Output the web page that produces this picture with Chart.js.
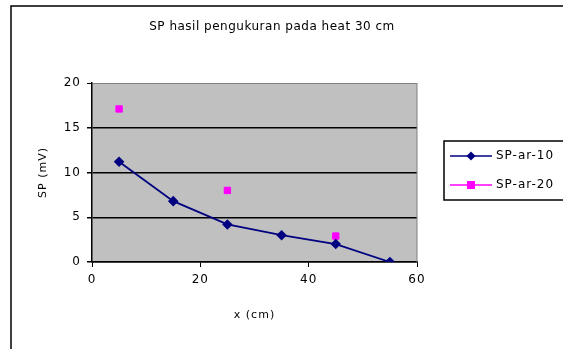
<!DOCTYPE html>
<html>
<head>
<meta charset="utf-8">
<script src="https://cdn.jsdelivr.net/npm/chart.js@4.4.1/dist/chart.umd.min.js"></script>
<style>
  html, body { margin: 0; padding: 0; background: #fff; overflow: hidden; }
  #wrap { width: 620px; height: 349px; }
</style>
</head>
<body>
<div id="wrap"><canvas id="spChart" width="620" height="349"></canvas></div>
<script>
// data
const titleText = 'SP hasil pengukuran pada heat 30 cm';
const xLabel = 'x (cm)';
const yLabel = 'SP (mV)';
const ar10X = [5, 15, 25, 35, 45, 55];
const ar10Y = [11.2, 6.8, 4.2, 3.0, 2.0, 0];
const ar20X = [5, 25, 45];
const ar20Y = [17.1, 8.0, 2.9];
const xTicks = [0, 20, 40, 60];
const yTicks = [0, 5, 10, 15, 20];

const toPoints = (xs, ys) => xs.map((x, i) => ({ x: x, y: ys[i] }));

const FONT = "'DejaVu Sans', sans-serif";
const SPACING = '1px'; // old Excel export has wide glyphs

// frame, grey plot area, title and legend (Excel style)
const excelLook = {
  id: 'excelLook',
  beforeLayout(chart) {
    chart.ctx.letterSpacing = SPACING;
  },
  beforeDraw(chart) {
    const { ctx, chartArea: a } = chart;
    ctx.letterSpacing = SPACING;
    ctx.save();
    ctx.fillStyle = '#c0c0c0';
    ctx.fillRect(a.left, a.top, a.right - a.left, a.bottom - a.top);
    ctx.restore();
  },
  afterDraw(chart) {
    const { ctx, chartArea: a } = chart;
    ctx.save();
    // outer frame
    ctx.strokeStyle = '#000';
    ctx.lineWidth = 1.5;
    ctx.strokeRect(11, 6, 700, 400);
    // right border of plot
    ctx.strokeStyle = '#808080';
    ctx.lineWidth = 1;
    ctx.beginPath();
    ctx.moveTo(a.right, a.top);
    ctx.lineTo(a.right, a.bottom);
    ctx.stroke();
    // title
    ctx.fillStyle = '#000';
    ctx.font = '12px ' + FONT;
    ctx.letterSpacing = '0.5px';
    ctx.textAlign = 'center';
    ctx.textBaseline = 'middle';
    ctx.fillText(titleText, 272, 27);
    // legend
    ctx.letterSpacing = SPACING;
    ctx.strokeStyle = '#000';
    ctx.lineWidth = 1.5;
    ctx.strokeRect(444, 141, 200, 59);
    ctx.font = '12px ' + FONT;
    ctx.textAlign = 'left';
    const rows = [156, 185];
    chart.data.datasets.forEach((ds, i) => {
      const y = rows[i];
      ctx.strokeStyle = ds.borderColor;
      ctx.lineWidth = 1.5;
      ctx.beginPath();
      ctx.moveTo(450, y);
      ctx.lineTo(492, y);
      ctx.stroke();
      ctx.fillStyle = ds.pointBackgroundColor;
      if (ds.pointStyle === 'rect') {
        ctx.fillRect(467, y - 4, 8, 8);
      } else {
        ctx.beginPath();
        ctx.moveTo(471, y - 4.5);
        ctx.lineTo(475.5, y);
        ctx.lineTo(471, y + 4.5);
        ctx.lineTo(466.5, y);
        ctx.closePath();
        ctx.fill();
      }
      ctx.fillStyle = '#000';
      ctx.fillText(ds.label, 496, y);
    });
    ctx.restore();
  }
};

const data = {
  datasets: [{
    label: 'SP-ar-10',
    data: toPoints(ar10X, ar10Y),
    showLine: true,
    borderColor: '#000080',
    backgroundColor: '#000080',
    pointBackgroundColor: '#000080',
    pointBorderColor: '#000080',
    pointStyle: 'rectRot',
    pointRadius: 4,
    borderWidth: 1.8
  }, {
    label: 'SP-ar-20',
    data: toPoints(ar20X, ar20Y),
    showLine: false,
    borderColor: '#ff00ff',
    backgroundColor: '#ff00ff',
    pointBackgroundColor: '#ff00ff',
    pointBorderColor: '#ff00ff',
    pointStyle: 'rect',
    pointRadius: 4.5,
    borderWidth: 1
  }]
};

const config = {
  type: 'scatter',
  data,
  options: {
    responsive: false,
    animation: false,
    layout: { padding: { left: 33, top: 83, right: 203, bottom: 23 } },
    plugins: {
      legend: { display: false },
      title: { display: false },
      tooltip: { enabled: false }
    },
    scales: {
      x: {
        type: 'linear',
        min: 0,
        max: 60,
        afterBuildTicks: (s) => { s.ticks = xTicks.map(v => ({ value: v })); },
        afterFit: (s) => { s.height = 64; },
        ticks: { color: '#000', font: { family: FONT, size: 12 }, padding: 6 },
        grid: { drawOnChartArea: false, color: '#000', tickLength: 5, lineWidth: 1 },
        border: { color: '#000', width: 1.5 },
        title: { display: true, text: xLabel, color: '#000', font: { family: FONT, size: 11 } }
      },
      y: {
        type: 'linear',
        min: 0,
        max: 20,
        afterBuildTicks: (s) => { s.ticks = yTicks.map(v => ({ value: v })); },
        afterFit: (s) => { s.width = 59; },
        ticks: { color: '#000', font: { family: FONT, size: 12 }, padding: 6 },
        grid: {
          color: (c) => (c.tick && c.tick.value === 20 ? '#808080' : '#000'),
          tickColor: '#000',
          lineWidth: (c) => (c.tick && c.tick.value === 20 ? 1 : 1.5),
          tickLength: 5
        },
        border: { color: '#000', width: 1.5 },
        title: { display: true, text: yLabel, color: '#000', font: { family: FONT, size: 11 } }
      }
    }
  },
  plugins: [excelLook]
};

const spChart = new Chart(document.getElementById('spChart'), config);
</script>
</body>
</html>
